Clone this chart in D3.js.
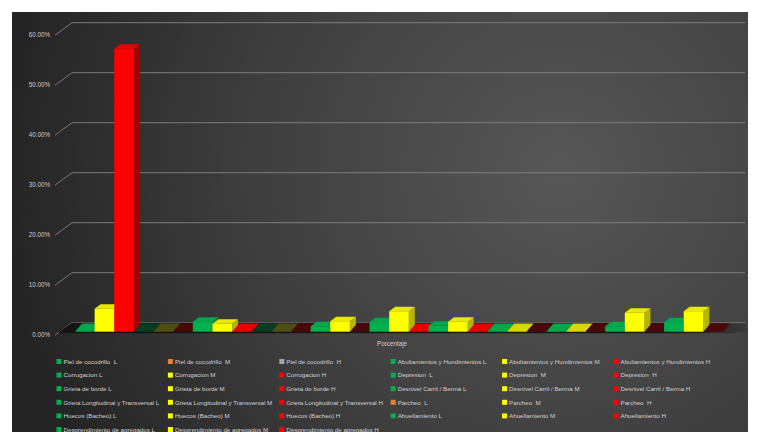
<!DOCTYPE html>
<html>
<head>
<meta charset="utf-8">
<script src="https://cdn.jsdelivr.net/npm/d3@7/dist/d3.min.js"></script>
<style>
  html, body { margin: 0; padding: 0; background: #ffffff; }
  svg { display: block; }
  text { font-family: "Liberation Sans", Arial, sans-serif; }
</style>
</head>
<body>
<svg id="chart" width="757" height="432"></svg>
<script>
// Damage types, each measured at three severity levels
const damageTypes = [
  "Piel de cocodrillo", "Abultamientos y Hundimientos", "Corrugacion", "Depresion",
  "Grieta de borde", "Desnivel Carril / Berma", "Grieta Longitudinal y Transversal",
  "Parcheo", "Huecos (Bacheo)", "Ahuellamiento", "Desprendimiento de agregados"
];
// Series names as shown in the legend (one series per type and level)
const seriesNames = [
  "Piel de cocodrillo  L", "Piel de cocodrillo  M", "Piel de cocodrillo  H",
  "Abultamientos y Hundimientos L", "Abultamientos y Hundimientos M", "Abultamientos y Hundimientos H",
  "Corrugacion L", "Corrugacion M", "Corrugacion H",
  "Depresion  L", "Depresion  M", "Depresion  H",
  "Grieta de borde L", "Grieta de borde M", "Grieta de borde H",
  "Desnivel Carril / Berma L", "Desnivel Carril / Berma M", "Desnivel Carril / Berma H",
  "Grieta Longitudinal y Transversal L", "Grieta Longitudinal y Transversal M", "Grieta Longitudinal y Transversal H",
  "Parcheo  L", "Parcheo  M", "Parcheo  H",
  "Huecos (Bacheo) L", "Huecos (Bacheo) M", "Huecos (Bacheo) H",
  "Ahuellamiento L", "Ahuellamiento M", "Ahuellamiento H",
  "Desprendimiento de agregados L", "Desprendimiento de agregados M", "Desprendimiento de agregados H"
];
// Severity level of each series
const seriesLevels = [
  "L","M","H", "L","M","H", "L","M","H", "L","M","H", "L","M","H", "L","M","H",
  "L","M","H", "L","M","H", "L","M","H", "L","M","H", "L","M","H"
];
// Share of the surveyed area (fraction), category "Porcentaje"
const seriesValues = [
  0.001, 0.046, 0.566,
  0, 0, 0,
  0.020, 0.016, 0.001,
  0, 0, 0,
  0.011, 0.021, 0,
  0.019, 0.041, 0.001,
  0.012, 0.020, 0.001,
  0.001, 0.001, 0,
  0.001, 0.001, 0,
  0.011, 0.038, 0,
  0.019, 0.041, 0
];
// Legend marker colours
const legendColors = [
  "#00b050", "#ed7d31", "#a5a5a5",
  "#00b050", "#ffff00", "#ff0000",
  "#00b050", "#ffff00", "#ff0000",
  "#00b050", "#ffff00", "#ff0000",
  "#00b050", "#ffff00", "#ff0000",
  "#00b050", "#ffff00", "#ff0000",
  "#00b050", "#ffff00", "#ff0000",
  "#ed7d31", "#ffff00", "#ff0000",
  "#00b050", "#ffff00", "#ff0000",
  "#00b050", "#ffff00", "#ff0000",
  "#00b050", "#ffff00", "#ff0000"
];
const yTicks = [0, 0.1, 0.2, 0.3, 0.4, 0.5, 0.6];
const categoryLabel = "Porcentaje";

// Face shading per severity level
const levelFaces = {
  L: { front: "#00b050", top: "#00a84c", side: "#007a38", flat: "#00a84c", empty: "#083d22" },
  M: { front: "#ffff00", top: "#e8e800", side: "#b5b500", flat: "#d8d800", empty: "#4f4f12" },
  H: { front: "#ff0000", top: "#e60000", side: "#a80000", flat: "#e60000", empty: "#4a0707" }
};

const svg = d3.select("#chart");

// Chart background
const defs = svg.append("defs");
const bg = defs.append("radialGradient").attr("id", "bg")
  .attr("gradientUnits", "userSpaceOnUse")
  .attr("cx", 560).attr("cy", 170).attr("r", 560);
bg.append("stop").attr("offset", "0").attr("stop-color", "#575757");
bg.append("stop").attr("offset", "0.55").attr("stop-color", "#3e3e3e");
bg.append("stop").attr("offset", "1").attr("stop-color", "#242424");
const floorGrad = defs.append("linearGradient").attr("id", "floorShade")
  .attr("x1", 0).attr("x2", 1).attr("y1", 0).attr("y2", 0);
floorGrad.append("stop").attr("offset", "0").attr("stop-color", "#141414");
floorGrad.append("stop").attr("offset", "0.9").attr("stop-color", "#1a1a1a");
floorGrad.append("stop").attr("offset", "1").attr("stop-color", "#1a1a1a").attr("stop-opacity", 0.2);

svg.append("rect").attr("x", 12).attr("y", 12).attr("width", 736).attr("height", 420)
  .attr("fill", "url(#bg)");

// Scales
const x = d3.scaleBand().domain(seriesNames).range([75, 723]).paddingInner(0).paddingOuter(0);
const y = d3.scaleLinear().domain([0, 0.6]).range([331.7, 31.7]);

// Oblique depth of the floor and of each bar
const floorDx = 13, floorDy = -9;
const barDx = 6, barDy = -4.5;
const wallLeft = 72, wallRight = 745;

// Back-wall gridlines and left-wall ticks
const grid = svg.append("g");
yTicks.forEach(v => {
  const yb = y(v) + floorDy;
  grid.append("polyline")
    .attr("points", `${wallLeft - 17},${yb + 12.5} ${wallLeft},${yb} ${wallRight},${yb}`)
    .attr("fill", "none").attr("stroke", "#828282").attr("stroke-width", 0.9);
});

// Value axis labels
const fmt = d3.format(".2%");
svg.append("g").selectAll("text").data(yTicks).join("text")
  .attr("x", 50).attr("y", d => y(d) + floorDy + 12.5 + 2)
  .attr("text-anchor", "end")
  .attr("font-size", 6.3).attr("fill", "#cccccc")
  .text(d => fmt(d));

// Floor
const x0 = 59, x1 = 732, yf = y(0);
svg.append("polygon")
  .attr("points", `${x0},${yf} ${x0 + floorDx},${yf + floorDy} ${wallRight},${yf + floorDy} ${x1 + 16},${yf} ${x1},${yf + 1.5} ${x0},${yf + 1.5}`)
  .attr("fill", "url(#floorShade)");

// Bars (drawn left to right so later bars overlap earlier side faces)
const bars = svg.append("g");
seriesNames.forEach((name, i) => {
  const v = seriesValues[i];
  const faces = levelFaces[seriesLevels[i]];
  const bx = x(name), bw = x.bandwidth();
  const yb = y(0), yt = y(v);
  const g = bars.append("g");
  if (yb - yt < 1.5) {
    // Bars at floor level show only their footprint
    g.append("polygon")
      .attr("points", `${bx},${yb} ${bx + floorDx * 0.55},${yb + floorDy * 0.9} ${bx + bw + floorDx * 0.55},${yb + floorDy * 0.9} ${bx + bw},${yb}`)
      .attr("fill", v > 0 ? faces.flat : faces.empty);
    return;
  }
  g.append("polygon")
    .attr("points", `${bx + bw},${yb} ${bx + bw + barDx},${yb + barDy} ${bx + bw + barDx},${yt + barDy} ${bx + bw},${yt}`)
    .attr("fill", faces.side);
  g.append("polygon")
    .attr("points", `${bx},${yt} ${bx + barDx},${yt + barDy} ${bx + bw + barDx},${yt + barDy} ${bx + bw},${yt}`)
    .attr("fill", faces.top);
  g.append("rect")
    .attr("x", bx).attr("y", yt).attr("width", bw).attr("height", yb - yt)
    .attr("fill", faces.front);
});

// Category axis title
svg.append("text")
  .attr("x", 392).attr("y", 346)
  .attr("text-anchor", "middle")
  .attr("font-size", 6.3).attr("fill", "#cfcfcf")
  .text(categoryLabel);

// Legend: six columns, filled row by row
const legend = svg.append("g");
const colX = 59, colStep = 111.4, rowY = 361.5, rowStep = 13.6;
seriesNames.forEach((name, i) => {
  const col = i % 6, row = Math.floor(i / 6);
  const lx = colX + col * colStep, ly = rowY + row * rowStep;
  legend.append("rect")
    .attr("x", lx - 2.5).attr("y", ly - 2.5).attr("width", 5).attr("height", 5)
    .attr("fill", legendColors[i]);
  legend.append("text")
    .attr("x", lx + 4.5).attr("y", ly + 2.3)
    .attr("font-size", 6.2).attr("fill", "#d2d2d2")
    .attr("xml:space", "preserve").style("white-space", "pre")
    .text(name);
});
</script>
</body>
</html>
